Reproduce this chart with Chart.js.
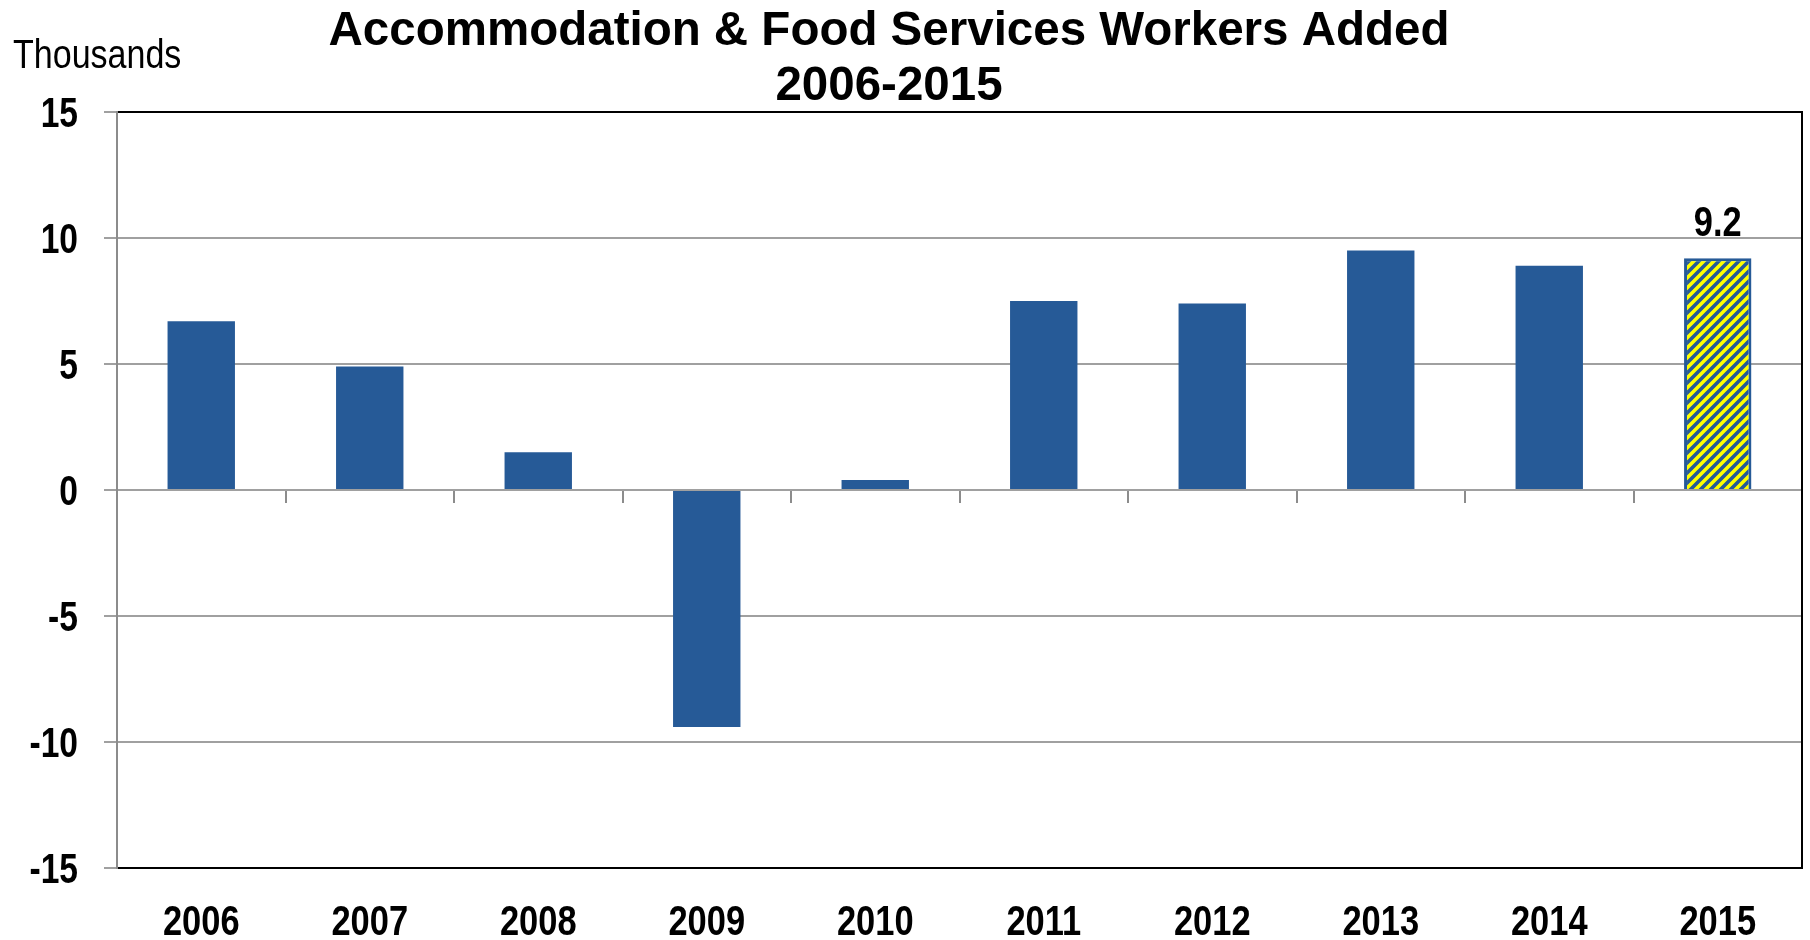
<!DOCTYPE html>
<html>
<head>
<meta charset="utf-8">
<script src="https://cdn.jsdelivr.net/npm/chart.js@4.4.1/dist/chart.umd.min.js"></script>
<style>
  body { margin: 0; background: #fff; }
  #wrap { width: 1810px; height: 940px; }
</style>
</head>
<body>
<div id="wrap"><canvas id="workersChart"></canvas></div>
<script>
const years = ["2006", "2007", "2008", "2009", "2010", "2011", "2012", "2013", "2014", "2015"];
const workersAdded = [6.7, 4.9, 1.5, -9.4, 0.4, 7.5, 7.4, 9.5, 8.9, 9.2]; // thousands
const yTicks = [-15, -10, -5, 0, 5, 10, 15];
const titleLines = ["Accommodation & Food Services Workers Added", "2006-2015"];
const unitLabel = "Thousands";
const labelledYear = "2015";

const SANS = '"Liberation Sans", Arial, sans-serif';
const BLUE = "#265a97";

// no Arial Narrow here, so squeeze Liberation Sans horizontally
function drawNarrow(ctx, text, x, y, align, squeeze) {
  ctx.save();
  ctx.translate(x, y);
  ctx.scale(squeeze, 1);
  ctx.textAlign = align;
  ctx.textBaseline = "alphabetic";
  ctx.fillText(text, 0, 0);
  ctx.restore();
}

// yellow / blue hatching for the latest year
function makeHatch() {
  const p = 10;
  const c = document.createElement("canvas");
  c.width = p;
  c.height = p;
  const g = c.getContext("2d");
  g.fillStyle = "#ffff00";
  g.fillRect(0, 0, p, p);
  g.strokeStyle = BLUE;
  g.lineWidth = 3.6;
  g.beginPath();
  g.moveTo(-p, p * 2); g.lineTo(p * 2, -p);
  g.moveTo(-p * 2, p * 2); g.lineTo(p, -p);
  g.moveTo(0, p * 2); g.lineTo(p * 3, -p);
  g.stroke();
  return g.createPattern(c, "repeat");
}
const hatch = makeHatch();

const textLayer = {
  id: "textLayer",
  afterDraw(chart) {
    const ctx = chart.ctx;
    const area = chart.chartArea;
    const xs = chart.scales.x;
    const ys = chart.scales.y;
    ctx.save();
    ctx.fillStyle = "#000";

    // frame on the right
    ctx.strokeStyle = "#000";
    ctx.lineWidth = 2;
    ctx.beginPath();
    ctx.moveTo(area.right, area.top - 1);
    ctx.lineTo(area.right, area.bottom);
    ctx.stroke();

    // title
    ctx.font = "bold 47.5px " + SANS;
    ctx.textAlign = "center";
    ctx.textBaseline = "alphabetic";
    ctx.fillText(titleLines[0], 889, 45);
    ctx.fillText(titleLines[1], 889, 100);

    // unit label
    ctx.font = "41px " + SANS;
    drawNarrow(ctx, unitLabel, 13, 68, "left", 0.83);

    // tick labels
    ctx.font = "bold 42px " + SANS;
    ys.ticks.forEach((t, i) => {
      drawNarrow(ctx, String(t.value), ys.right - 39, ys.getPixelForTick(i) + 15, "right", 0.8);
    });
    xs.ticks.forEach((t, i) => {
      drawNarrow(ctx, xs.getLabelForValue(t.value), xs.getPixelForTick(i), 935, "center", 0.82);
    });

    // value on the latest bar
    const i = years.indexOf(labelledYear);
    const bar = chart.getDatasetMeta(0).data[i];
    ctx.font = "bold 43px " + SANS;
    drawNarrow(ctx, workersAdded[i].toFixed(1), bar.x, bar.y - 22, "center", 0.8);
    ctx.restore();
  }
};

const config = {
  type: "bar",
  data: {
    labels: years,
    datasets: [
      {
        label: "Workers added",
        data: workersAdded,
        backgroundColor: years.map((y) => (y === labelledYear ? hatch : BLUE)),
        borderColor: BLUE,
        borderWidth: years.map((y) => (y === labelledYear ? 3 : 0)),
        barPercentage: 0.8,
        categoryPercentage: 0.5,
      },
    ],
  },
  options: {
    responsive: true,
    maintainAspectRatio: false,
    animation: false,
    layout: { padding: { top: 112, right: 8, left: 0, bottom: 0 } },
    plugins: {
      legend: { display: false },
      title: { display: false },
      tooltip: { enabled: false },
    },
    scales: {
      x: {
        type: "category",
        position: "bottom",
        offset: true,
        grid: { display: false, drawTicks: false },
        border: { display: true, color: "#000", width: 2 },
        ticks: { color: "rgba(0,0,0,0)", font: { size: 42 }, maxRotation: 0 },
        afterFit(scale) { scale.height = 72; },
      },
      x2: {
        type: "category",
        axis: "x",
        position: { y: 0 },
        offset: true,
        grid: {
          offset: true,
          drawOnChartArea: false,
          drawTicks: true,
          tickLength: 13,
          color: "#8c8c8c",
          lineWidth: 2,
        },
        border: { display: false },
        ticks: { display: false },
      },
      y: {
        min: -15,
        max: 15,
        afterBuildTicks(scale) { scale.ticks = yTicks.map((v) => ({ value: v })); },
        grid: {
          color: (c) => (c.tick && c.tick.value === 15 ? "#000" : "#a0a0a0"),
          tickColor: "#a0a0a0",
          lineWidth: 2,
          tickLength: 13,
        },
        border: { color: "#8c8c8c", width: 2 },
        ticks: { color: "rgba(0,0,0,0)", font: { size: 42 } },
        afterFit(scale) { scale.width = 117; },
      },
    },
  },
  plugins: [textLayer],
};

const workersChart = document.getElementById("workersChart").getContext("2d");
new Chart(workersChart, config);
</script>
</body>
</html>
